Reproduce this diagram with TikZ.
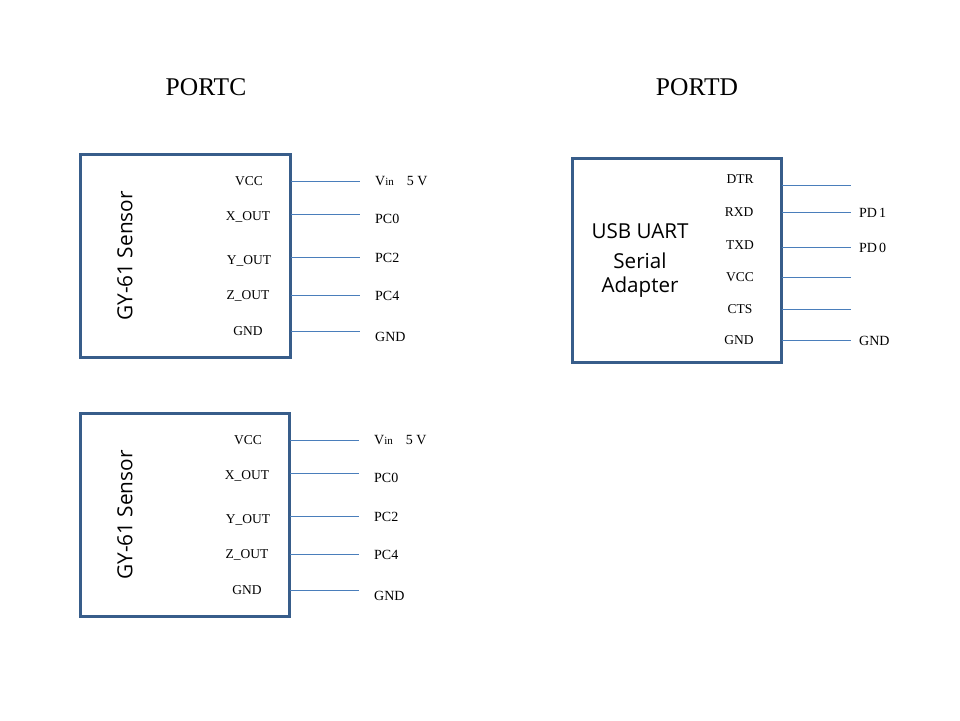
\documentclass[tikz,border=0pt]{standalone}
\usepackage{fontspec}
\setmainfont{Liberation Serif}
\newfontfamily\labelfont{Open Sans}
\usetikzlibrary{positioning}
\definecolor{boxblue}{HTML}{385D8A}
\definecolor{wireblue}{HTML}{4A7EBB}
\tikzset{
  modbox/.style={draw=boxblue,line width=3pt,minimum width=210pt,minimum height=203pt,outer sep=0pt,inner sep=0pt},
  wire/.style={draw=wireblue,line width=1pt},
  pin/.style={font=\fontsize{13.5}{15}\selectfont,inner sep=0pt},
  port/.style={font=\fontsize{14}{16}\selectfont,inner sep=0pt,anchor=west},
  title/.style={font=\fontsize{25.5}{28}\selectfont,inner sep=0pt},
  sensor/.style={font=\labelfont\fontsize{20.8}{24}\selectfont,inner sep=0pt,rotate=90},
  adapter/.style={font=\labelfont\fontsize{20.6}{24}\selectfont,inner sep=0pt}
}
\begin{document}
\begin{tikzpicture}[x=1pt,y=-1pt]
\useasboundingbox (0,0) rectangle (960,720);
\node[title] (portc) at (206,87) {PORTC};
\node[title] (portd) at (697,87) {PORTD};
% first sensor
\node[modbox] (s1) at (185.5,256) {};
\node[sensor] (s1name) at (125,256) {GY-61 Sensor};
\node[pin] (s1vcc) at (249,181) {VCC};
\node[pin] (s1x) at (248,216.5) {X\_OUT};
\node[pin] (s1y) at (249,260.5) {Y\_OUT};
\node[pin] (s1z) at (248,295.5) {Z\_OUT};
\node[pin] (s1gnd) at (248,331) {GND};
\node[port] (s1vin) at (375,181.5) {V{\fontsize{11}{12}\selectfont in}\hspace{13pt}5 V};
\node[port] (s1pc0) at (375,218.5) {PC0};
\node[port] (s1pc2) at (375,257.5) {PC2};
\node[port] (s1pc4) at (375,295.5) {PC4};
\node[port] (s1out) at (375,336.5) {GND};
\coordinate (s1a) at (360,181);
\coordinate (s1b) at (360,214);
\coordinate (s1c) at (360,257);
\coordinate (s1d) at (360,295);
\coordinate (s1e) at (360,331);
\draw[wire] (s1a -| s1.east) -- (s1a);
\draw[wire] (s1b -| s1.east) -- (s1b);
\draw[wire] (s1c -| s1.east) -- (s1c);
\draw[wire] (s1d -| s1.east) -- (s1d);
\draw[wire] (s1e -| s1.east) -- (s1e);
% second sensor
\node[modbox,minimum width=209pt] (s2) at (185,515) {};
\node[sensor] (s2name) at (125,515) {GY-61 Sensor};
\node[pin] (s2vcc) at (248,440) {VCC};
\node[pin] (s2x) at (247,475.5) {X\_OUT};
\node[pin] (s2y) at (248,519.5) {Y\_OUT};
\node[pin] (s2z) at (247,554.5) {Z\_OUT};
\node[pin] (s2gnd) at (247,590) {GND};
\node[port] (s2vin) at (374,440.5) {V{\fontsize{11}{12}\selectfont in}\hspace{13pt}5 V};
\node[port] (s2pc0) at (374,477.5) {PC0};
\node[port] (s2pc2) at (374,516.5) {PC2};
\node[port] (s2pc4) at (374,554.5) {PC4};
\node[port] (s2out) at (374,595.5) {GND};
\coordinate (s2a) at (359,440);
\coordinate (s2b) at (359,473);
\coordinate (s2c) at (359,516);
\coordinate (s2d) at (359,554);
\coordinate (s2e) at (359,590);
\draw[wire] (s2a -| s2.east) -- (s2a);
\draw[wire] (s2b -| s2.east) -- (s2b);
\draw[wire] (s2c -| s2.east) -- (s2c);
\draw[wire] (s2d -| s2.east) -- (s2d);
\draw[wire] (s2e -| s2.east) -- (s2e);
% serial adapter
\node[modbox,minimum width=209pt,minimum height=204pt] (uart) at (677,260.5) {};
\node[adapter] (uart1) at (640,231) {USB UART};
\node[adapter] (uart2) at (640,260.5) {Serial};
\node[adapter] (uart3) at (640,287.5) {Adapter};
\node[pin] (udtr) at (740,179) {DTR};
\node[pin] (urxd) at (739,212) {RXD};
\node[pin] (utxd) at (740,245) {TXD};
\node[pin] (uvcc) at (740,277) {VCC};
\node[pin] (ucts) at (740,309) {CTS};
\node[pin] (ugnd) at (739,340) {GND};
\node[port] (upd1) at (859,212.5) {PD\hspace{2pt}1};
\node[port] (upd0) at (859,247.5) {PD\hspace{2pt}0};
\node[port] (uout) at (859,340.5) {GND};
\coordinate (ua) at (851,185);
\coordinate (ub) at (851,212);
\coordinate (uc) at (851,247);
\coordinate (ud) at (851,277);
\coordinate (ue) at (851,309);
\coordinate (uf) at (851,340);
\draw[wire] (ua -| uart.east) -- (ua);
\draw[wire] (ub -| uart.east) -- (ub);
\draw[wire] (uc -| uart.east) -- (uc);
\draw[wire] (ud -| uart.east) -- (ud);
\draw[wire] (ue -| uart.east) -- (ue);
\draw[wire] (uf -| uart.east) -- (uf);
\end{tikzpicture}
\end{document}
